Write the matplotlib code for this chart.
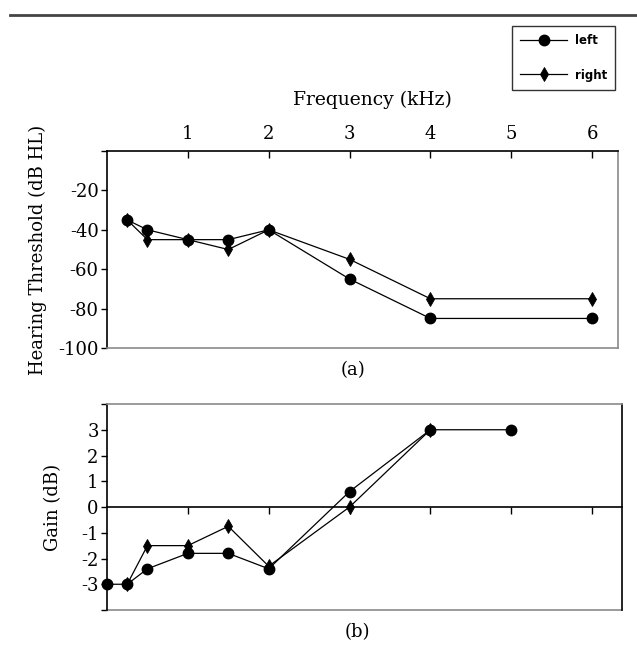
import matplotlib
matplotlib.use("Agg")
import matplotlib.pyplot as plt
from matplotlib.lines import Line2D

plt.rcParams['font.family'] = ['DejaVu Serif']

# ---- data ----
freq_a = [0.25, 0.5, 1, 1.5, 2, 3, 4, 6]
left_a = [-35, -40, -45, -45, -40, -65, -85, -85]
right_a = [-35, -45, -45, -50, -40, -55, -75, -75]

freq_b_left = [0, 0.25, 0.5, 1, 1.5, 2, 3, 4, 5]
left_b = [-3, -3, -2.4, -1.8, -1.8, -2.4, 0.6, 3, 3]
freq_b_right = [0.25, 0.5, 1, 1.5, 2, 3, 4]
right_b = [-3, -1.5, -1.5, -0.75, -2.3, 0, 3]

xticks = [1, 2, 3, 4, 5, 6]
yticks_a = [-100, -80, -60, -40, -20]
yticks_b = [-3, -2, -1, 0, 1, 2, 3]

W, H = 637, 669
fig = plt.figure(figsize=(W / 100, H / 100), dpi=100)

def fx(px):
    return px / W

def fy(py):
    return 1 - py / H

grey = '#8a8a8a'
TICK_FS = 13
LAB_FS = 13

circ = dict(marker='o', ms=7.5)
diam = dict(marker='d', ms=7, mew=0.6)

# ---- panel (a) ----
axa = fig.add_axes([fx(107), fy(348), fx(618 - 107), (348 - 151) / H])
la, = axa.plot(freq_a, left_a, color='black', lw=0.9, label='left', **circ)
ra, = axa.plot(freq_a, right_a, color='black', lw=0.9, label='right', **diam)
axa.set_xlim(0, 6.32)
axa.set_ylim(-100, 0)
axa.xaxis.tick_top()
axa.set_xticks(xticks)
axa.set_xticklabels([str(t) for t in xticks], fontsize=TICK_FS)
axa.tick_params(axis='x', direction='in', length=5, width=1, pad=6)
axa.set_yticks(yticks_a + [0])
axa.set_yticklabels([str(t) for t in yticks_a] + [''], fontsize=TICK_FS)
axa.tick_params(axis='y', direction='out', length=4, width=1, pad=2)
axa.spines['top'].set_color('black')
axa.spines['left'].set_color('black')
axa.spines['bottom'].set_color(grey)
axa.spines['right'].set_color(grey)
for s in axa.spines.values():
    s.set_linewidth(1.2)
axa.set_ylabel('Hearing Threshold (dB HL)', fontsize=LAB_FS)
axa.yaxis.set_label_coords((47 - 107) / 511, 0.5)

fig.text(fx(372), fy(100), 'Frequency (kHz)', fontsize=13.5, ha='center', va='center')
fig.text(fx(353), fy(370), '(a)', fontsize=13, ha='center', va='center')

# ---- panel (b) ----
axb = fig.add_axes([fx(107), fy(610), fx(622 - 107), (610 - 404) / H])
axb.plot(freq_b_left, left_b, color='black', lw=0.9, clip_on=False, **circ)
axb.plot(freq_b_right, right_b, color='black', lw=0.9, clip_on=False, **diam)
axb.set_xlim(0, 6.37)
axb.set_ylim(-4, 4)
axb.spines['bottom'].set_position(('data', 0))
axb.spines['bottom'].set_color('black')
axb.set_xticks(xticks)
axb.set_xticklabels([])
axb.tick_params(axis='x', direction='out', length=5, width=1)
axb.set_yticks([-4] + yticks_b + [4])
axb.set_yticklabels([''] + [str(t) for t in yticks_b] + [''], fontsize=TICK_FS)
axb.tick_params(axis='y', direction='out', length=4, width=1, pad=2)
axb.spines['top'].set_color(grey)
axb.spines['left'].set_color('black')
axb.spines['right'].set_color('black')
for s in axb.spines.values():
    s.set_linewidth(1.2)
axb.axhline(-4, color=grey, lw=1.2, clip_on=False)
axb.set_ylabel('Gain (dB)', fontsize=LAB_FS)
axb.yaxis.set_label_coords((62 - 107) / 515, 0.5)

fig.text(fx(357), fy(632), '(b)', fontsize=13, ha='center', va='center')

# ---- legend ----
leg = fig.legend(handles=[la, ra], labels=['left', 'right'],
                 loc='upper left', bbox_to_anchor=(fx(512), fy(26)),
                 prop={'family': 'DejaVu Sans', 'size': 8.5, 'weight': 'bold'},
                 frameon=True, fancybox=False, edgecolor='black',
                 handlelength=4.0, labelspacing=1.8, borderpad=0.7,
                 handletextpad=0.6, borderaxespad=0, markerscale=1.0)
leg.get_frame().set_linewidth(1.0)

# ---- top rule ----
fig.add_artist(Line2D([fx(10), 1.0], [fy(14.5), fy(14.5)], color='#444444', lw=2))

fig.savefig('out.png', dpi=100)
